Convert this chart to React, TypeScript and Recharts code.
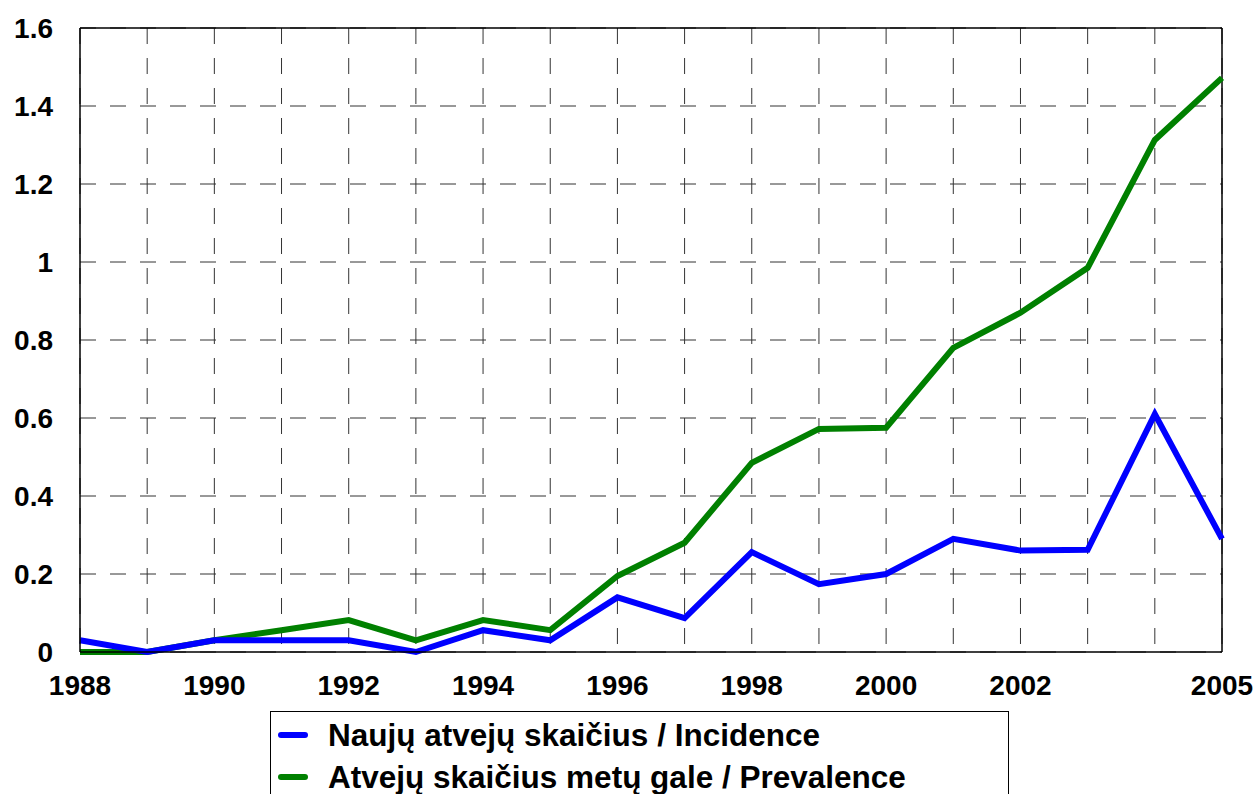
import {
  LineChart,
  Line,
  XAxis,
  YAxis,
  CartesianGrid,
  ReferenceLine,
} from "recharts";

const years = [
  1988, 1989, 1990, 1991, 1992, 1993, 1994, 1995, 1996, 1997, 1998, 1999,
  2000, 2001, 2002, 2003, 2004, 2005,
];
const incidence = [
  0.03, 0, 0.03, 0.03, 0.03, 0, 0.056, 0.03, 0.14, 0.087, 0.256, 0.174, 0.2,
  0.29, 0.26, 0.262, 0.61, 0.29,
];
const prevalence = [
  0, 0, 0.03, 0.056, 0.082, 0.03, 0.082, 0.056, 0.195, 0.28, 0.485, 0.572,
  0.575, 0.78, 0.87, 0.985, 1.313, 1.472,
];
const xLabels = [1988, 1990, 1992, 1994, 1996, 1998, 2000, 2002, 2005];
const yTicks = [0, 0.2, 0.4, 0.6, 0.8, 1, 1.2, 1.4, 1.6];
const seriesNames = [
  "Naujų atvejų skaičius / Incidence",
  "Atvejų skaičius metų gale / Prevalence",
];
const seriesColors = ["#0000ff", "#008000"];

const data = years.map((year, i) => ({
  year,
  incidence: incidence[i],
  prevalence: prevalence[i],
}));

const font = "'Liberation Sans', Arial, sans-serif";
const tickStyle = { fontSize: 28, fontWeight: 700, fill: "#000", fontFamily: font };

export default function App() {
  return (
    <div style={{ position: "absolute", left: 0, top: 0, width: 1258, height: 794, background: "#fff", overflow: "hidden" }}>
      <LineChart
        width={1258}
        height={794}
        data={data}
        margin={{ top: 28, right: 36, left: 0, bottom: 82 }}
      >
        <CartesianGrid stroke="#333" strokeDasharray="16 14" />
        <XAxis
          dataKey="year"
          type="number"
          domain={[1988, 2005]}
          ticks={years}
          interval={0}
          tickFormatter={(v) => (xLabels.includes(v) ? String(v) : "")}
          tick={tickStyle}
          tickLine={false}
          tickSize={0}
          tickMargin={23}
          height={60}
          axisLine={{ stroke: "#000", strokeWidth: 1.5 }}
        />
        <YAxis
          type="number"
          domain={[0, 1.6]}
          ticks={yTicks}
          interval={0}
          tickFormatter={(v) => String(v)}
          tick={tickStyle}
          tickLine={false}
          tickSize={0}
          tickMargin={27}
          width={80}
          axisLine={{ stroke: "#000", strokeWidth: 1.5 }}
        />
        <ReferenceLine y={1.6} stroke="#000" strokeWidth={1.5} />
        <ReferenceLine x={2005} stroke="#000" strokeWidth={1.5} />
        <Line
          type="linear"
          dataKey="prevalence"
          stroke={seriesColors[1]}
          strokeWidth={6}
          dot={false}
          isAnimationActive={false}
        />
        <Line
          type="linear"
          dataKey="incidence"
          stroke={seriesColors[0]}
          strokeWidth={6}
          dot={false}
          isAnimationActive={false}
        />
      </LineChart>
      <div
        style={{
          position: "absolute",
          left: 270,
          top: 711,
          width: 739,
          height: 100,
          border: "1px solid #000",
          boxSizing: "border-box",
          fontFamily: font,
          fontWeight: 700,
          fontSize: 31.5,
          color: "#000",
        }}
      >
        {seriesNames.map((name, i) => (
          <div
            key={name}
            style={{
              position: "absolute",
              left: 7,
              top: 7 + i * 42,
              height: 32,
              display: "flex",
              alignItems: "center",
              whiteSpace: "nowrap",
            }}
          >
            <span
              style={{
                display: "inline-block",
                width: 30,
                height: 6,
                borderRadius: 3,
                background: seriesColors[i],
                marginRight: 20,
              }}
            />
            <span>{name}</span>
          </div>
        ))}
      </div>
    </div>
  );
}
